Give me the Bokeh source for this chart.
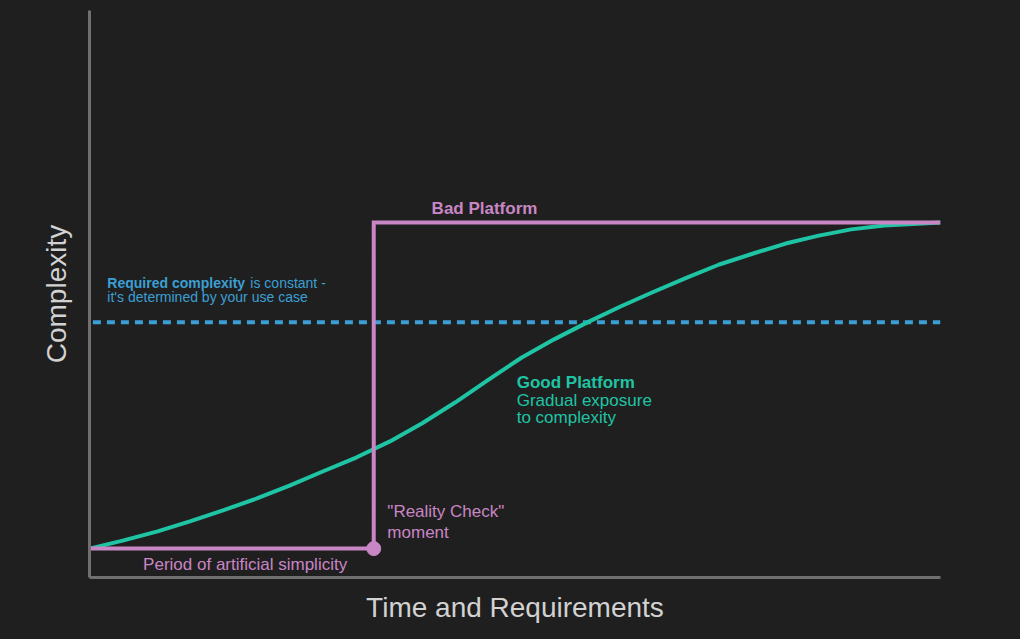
from bokeh.plotting import figure
from bokeh.models import Range1d, FixedTicker
from bokeh.core.properties import value
from bokeh.embed import file_html
from bokeh.resources import INLINE

# ---- data (arbitrary units 0..10) ----
time_bad = [0.0, 3.34, 3.34, 10.0]
complexity_bad = [0.51, 0.51, 6.26, 6.26]
reality_check_x = [3.34]
reality_check_y = [0.51]

time_good = [0.00, 0.39, 0.79, 1.18, 1.56, 1.96, 2.35, 2.74, 3.14, 3.53,
             3.91, 4.30, 4.69, 5.08, 5.46, 5.85, 6.24, 6.63, 7.02, 7.40,
             7.79, 8.18, 8.57, 8.95, 9.34, 9.73, 10.0]
complexity_good = [0.51, 0.65, 0.81, 0.99, 1.18, 1.39, 1.62, 1.87, 2.12, 2.40,
                   2.72, 3.09, 3.49, 3.88, 4.20, 4.50, 4.78, 5.04, 5.29, 5.52,
                   5.71, 5.89, 6.03, 6.14, 6.21, 6.24, 6.26]

required_x = [0.04, 10.0]
required_y = [4.50, 4.50]

BG = "#1f1f1f"
PINK = "#c986c4"
TEAL = "#1fc4a4"
BLUE = "#3b9fd4"
AXIS = "#707070"
LABEL = "#d2d2d2"
FONT = "Liberation Sans"

p = figure(width=1020, height=639, output_backend="svg", toolbar_location=None,
           x_range=Range1d(0, 10), y_range=Range1d(0, 10),
           background_fill_color=BG, border_fill_color=BG,
           min_border_left=89, min_border_right=80, min_border_top=10, min_border_bottom=62)
p.outline_line_color = None
p.grid.visible = False

for ax in (p.xaxis[0], p.yaxis[0]):
    ax.ticker = FixedTicker(ticks=[])
    ax.axis_line_color = AXIS
    ax.axis_line_width = 3
    ax.major_tick_line_color = None
    ax.minor_tick_line_color = None
    ax.axis_label_text_font = FONT
    ax.axis_label_text_font_style = "normal"
    ax.axis_label_text_font_size = "28px"
    ax.axis_label_text_color = LABEL
p.xaxis.axis_label = "Time and Requirements"
p.yaxis.axis_label = "Complexity"
p.xaxis.axis_label_standoff = 14
p.yaxis.axis_label_standoff = 18

# required complexity (dashed)
p.line(required_x, required_y, line_color=BLUE, line_width=4, line_dash="8 6")

# good platform curve
p.line(time_good, complexity_good, line_color=TEAL, line_width=4, line_join="round")

# bad platform step
p.line(time_bad, complexity_bad, line_color=PINK, line_width=4, line_join="miter")
p.scatter(reality_check_x, reality_check_y, size=14, fill_color=PINK, line_color=PINK)

def txt(x, y, s, color, size, bold=False):
    p.text([x], [y], text=[s], text_color=color, text_font=value(FONT),
           text_font_size=size, text_font_style="bold" if bold else "normal",
           text_baseline="middle", text_align="left")

txt(4.02, 6.51, "Bad Platform", PINK, "17px", True)
txt(0.21, 5.19, "Required complexity", BLUE, "14px", True)
txt(1.89, 5.19, "is constant -", BLUE, "14px")
txt(0.21, 4.94, "it's determined by your use case", BLUE, "14px")
txt(5.02, 3.44, "Good Platform", TEAL, "17px", True)
txt(5.02, 3.12, "Gradual exposure", TEAL, "17px")
txt(5.02, 2.82, "to complexity", TEAL, "17px")
txt(3.50, 1.16, "\"Reality Check\"", PINK, "17px")
txt(3.50, 0.79, "moment", PINK, "17px")
txt(0.63, 0.23, "Period of artificial simplicity", PINK, "17px")

html = file_html(p, INLINE)
html = html.replace("<body>", '<body style="background:#1f1f1f">')
open("out.html", "w").write(html)
